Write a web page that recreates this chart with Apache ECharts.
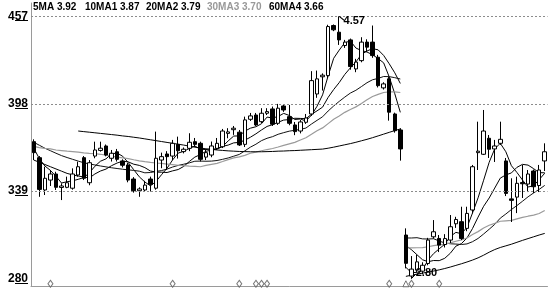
<!DOCTYPE html>
<html><head><meta charset="utf-8">
<script src="https://cdn.jsdelivr.net/npm/echarts@6/dist/echarts.min.js"></script>
<style>html,body{margin:0;padding:0;background:#fff}#c{width:550px;height:288px}</style>
</head><body><div id="c"></div>
<script>
// ---- data (prices x100) ----
const opens = [372.4,361.6,339.8,346.5,350.6,341.5,341.6,341,349.9,361.6,344.7,362.7,366.5,369.5,361.2,365.6,359.4,356.7,347.2,339.3,339.8,347.2,341,360,364.1,362.7,370.6,365.7,367.9,372.4,371.3,362,363.4,367.9,369,378,380.5,378.8,370.6,387.5,390.4,385.9,391.6,394.5,384.8,396.5,389.3,383.7,379.6,385.5,391.1,404.6,416.2,417,450.8,446.3,437.3,441.1,421.5,427.1,439.6,439.6,429.4,408.7,414.8,391.1,380.3,309.4,281.7,285.7,285,290.2,308.2,307.1,303,306,317,318.4,313.9,326.3,365,363.9,374.7,367.5,371.3,359.4,333.8,335,344.8,343.8,352.6,342.8,359.4];
const closes = [365,340.2,347.7,350.6,341.6,342.5,344.7,350.6,355.5,347.7,358.2,366.8,368,363.4,364.6,360.5,356.5,346.5,339.3,340.5,343.1,343.6,361.2,362.3,362.3,371.3,366.3,367.3,372,370.6,360.5,365,369.5,371.3,379.6,379,381.5,370.2,387.1,389.8,383.7,391.6,392.7,384.2,395,393.8,384.8,379.2,385.7,388.4,413.6,414.8,417.3,450.1,447.9,441.1,439.6,423.1,426.1,439.6,436.2,430.5,410.2,411.4,392.3,379.8,367.5,290.3,286.4,291.3,289,306,311.6,302.6,307,315,319.9,307.1,324,355.5,366,379.6,367.3,369.5,374,337.5,332.8,344.3,344,350.6,342,353.3,365.6];
const lows = [360,335.2,336.4,342.5,339.8,333,341,340,348.8,346.5,343,361.2,365.7,362.5,359,359,355,345,338,335.2,338.8,338.8,340,354.5,353.3,360,361,364.5,366,368.8,359,360,361.9,366.8,368.1,374.7,377,369.5,368.8,386.4,383,385,390.4,383,383.7,392.5,383.5,376.8,378,384.4,389.8,402,406.9,415.4,447,437.7,435.7,421,419.3,426,433,429,409,407.6,386.6,378.5,359.6,286.9,280,284.5,283,289,307,297.9,301,304,314.2,306,312,324,353.3,363.4,361.4,358.7,370.2,335.7,318.2,324.2,334.4,338.4,337.7,338.4,352.6];
const highs = [374,362.7,355.5,353.3,352.1,344.3,348.8,354.4,358.9,362.7,360,372.4,372.4,370.5,366.8,367.5,360.5,358,348.5,341.6,346,348.8,379.2,365,366,373.6,375.8,368.5,378.1,374.9,372.4,367,372.5,374.9,381,381.5,383,380.3,389.3,391.8,391.8,395,395,396.1,397.9,397.5,397.2,385.7,387,391.1,420,420.4,418.5,451.3,451.5,457,441.1,442,428.3,442.9,441.5,450.8,431,412.5,416,392,381.5,313.9,295.2,296,291,307.5,319.5,309.4,310,322.9,321.7,328.5,328.5,356.7,385.9,393.8,376.9,373.6,385.9,361.4,347.7,348.8,356.7,353.3,353.6,356.7,371.3];

const ma5 = [368,361,356,353,349.0,344.5,345.4,346.0,347.0,348.2,351.3,355.8,359.2,360.8,364.2,364.7,362.6,358.3,353.5,348.7,345.2,342.6,345.5,350.1,354.5,360.1,364.7,365.9,367.8,369.5,367.3,367.1,367.5,367.4,369.2,372.9,376.2,376.3,379.5,381.5,382.5,384.5,389.0,388.4,389.4,391.5,390.1,387.4,387.7,386.4,390.3,396.3,404.0,416.8,428.7,434.2,439.2,440.4,435.6,433.9,432.9,431.1,428.5,425.6,416.1,404.8,392.2,
  287.6,284.0,284.2,285.8,292.6,296.9,300.1,303.2,308.4,311.2,310.3,314.6,324.3,334.5,346.4,358.5,367.6,371.3,365.6,356.2,351.6,346.5,341.8,342.7,346.8,351.1];
const ma10 = [360,358.5,357,355.5,354,352.5,351,350,349.2,348.6,347.9,350.6,352.6,353.9,356.2,358.0,359.2,358.8,357.2,356.4,354.9,352.6,351.9,351.8,351.6,352.7,353.6,355.7,359.0,362.0,363.7,365.9,366.7,367.6,369.3,370.1,371.6,371.9,373.4,375.4,377.7,380.3,382.7,383.9,385.5,387.0,387.3,388.2,388.1,387.9,390.9,393.2,395.7,402.3,407.6,412.3,417.8,422.2,426.2,431.3,433.6,435.2,434.4,430.6,425.0,418.9,411.7,
  302.4,299.5,296.1,292.7,291.4,292.2,292.1,293.7,297.1,301.9,303.6,307.4,313.8,321.5,328.8,334.4,341.1,347.8,350.0,351.3,355.1,357.1,356.6,354.2,351.5,351.4];
const ma20 = [372,370,368,366.3,364.6,363,361.7,360.5,359.3,358.2,357.4,356.7,356,355.4,354.8,354.3,353.8,353.4,353,352.5,351.4,351.6,352.3,352.9,353.9,355.3,356.4,357.2,358.1,359.2,359.3,359.2,359.3,359.7,360.5,361.4,362.6,363.8,366.2,368.7,370.7,373.1,374.7,375.8,377.4,378.5,379.5,380.1,380.7,381.6,384.3,386.8,389.2,393.1,396.5,399.6,402.5,405.2,407.1,409.6,412.2,414.2,415.1,416.4,416.3,415.6,414.7,
  307.4,307.4,307.6,306.8,306.7,306.9,305.3,304.1,303.5,303.3,303.0,303.4,304.9,307.1,310.1,313.3,316.6,320.8,323.6,326.6,329.3,332.2,335.2,337.8,340.2,342.9];
const ma30 = [369.2,368.4,367.9,367.5,366.8,366.4,366.0,365.7,365.3,364.8,364.5,364.3,363.9,363.3,362.6,362.0,361.5,361.0,360.2,359.5,358.9,358.4,358.0,357.7,357.3,356.9,356.5,356.2,355.9,355.7,355.5,356.4,357.1,357.8,359.0,360.3,361.5,362.1,363.2,364.6,365.4,366.3,367.1,367.8,368.8,369.9,370.9,371.9,373.5,375.1,377.4,379.8,381.7,384.6,387.5,389.8,392.2,394.1,395.9,398.2,400.7,402.9,404.3,405.6,406.0,406.0,405.6,
  300.7,300.7,300.8,300.9,301.5,302.2,302.8,303.3,304.1,305.2,306.1,307.4,309.7,311.7,314.1,316.0,317.3,318.7,319.0,319.3,320.3,321.3,322.1,322.8,323.9,326.0];
const ma60 = [null,null,null,null,null,null,null,null,379.6,379.2,378.8,378.4,378,377.6,377.2,376.8,376.3,375.9,375.4,374.9,374.3,373.7,373.1,372.5,371.9,371.3,370.7,370.1,369.4,368.7,368.1,367.6,367.2,366.8,366.5,366.2,366,365.8,365.7,365.6,365.6,365.6,365.7,365.8,366,366.1,366.3,366.4,366.6,366.8,367,367.2,367.4,368,368.7,369.5,370.3,371.1,372,373,374,375.1,376.3,377.5,378.7,379.9,381,
  281.5,282.3,283,283.7,284.4,285.1,285.9,286.8,287.8,288.9,290,291.2,292.5,294,295.8,297.8,299.6,301,302.1,303.2,304.5,305.8,307,308.2,309.4,310.5];

const gapIndex = 67;               // first bar after the price gap; MA lines restart here
const tickValues = [457, 398, 339, 280];
const tickLabels = ['457', '398', '339', '280'];
const gridValues = [457, 398, 339];
const highMark = {index: 55, value: 457, text: '4.57'};
const lowMark = {index: 68, value: 280, text: '2.80'};
const diamondIdx = [3, 25, 37, 40, 41, 42, 64, 68, 73];
const triangleIdx = [67];
const signalLevel = 276.5;
const legendItems = [
  {text: '5MA 3.92', color: '#000'},
  {text: '10MA1 3.87', color: '#000'},
  {text: '20MA2 3.79', color: '#000'},
  {text: '30MA3 3.70', color: '#999'},
  {text: '60MA4 3.66', color: '#000'}
];

// ---- build ----
const categories = closes.map((_, i) => String(i + 1));
const kData = closes.map((c, i) => [opens[i], c, lows[i], highs[i]]);
const pre = arr => arr.map((v, i) => i < gapIndex ? v : null);
const post = arr => arr.map((v, i) => i >= gapIndex ? v : null);

const maDefs = [
  {name: '5MA', data: ma5, color: '#000', width: 1},
  {name: '10MA1', data: ma10, color: '#000', width: 1},
  {name: '20MA2', data: ma20, color: '#111', width: 1},
  {name: '30MA3', data: ma30, color: '#9a9a9a', width: 1.2},
  {name: '60MA4', data: ma60, color: '#000', width: 1}
];
const maSeries = [];
maDefs.forEach(d => {
  [pre(d.data), post(d.data)].forEach(part => {
    maSeries.push({
      type: 'line', name: d.name, data: part, showSymbol: false, silent: true,
      connectNulls: false, smooth: false,
      lineStyle: {color: d.color, width: d.width}, z: 3
    });
  });
});

const FONT = '"Liberation Sans", Arial, sans-serif';
const legendX = [33, 85, 146, 207, 269];
const legendGraphics = legendItems.map((it, k) => ({
  type: 'text', left: legendX[k], top: 2, silent: true,
  style: {text: it.text, fill: it.color, font: 'bold 10px ' + FONT}
}));

const option = {
  animation: false,
  backgroundColor: '#fff',
  grid: {left: 31, right: 2.5, top: 3, bottom: 2},
  xAxis: {
    type: 'category', data: categories, boundaryGap: true,
    axisLine: {show: true, lineStyle: {color: '#9a9a9a', width: 1}},
    axisTick: {show: false}, axisLabel: {show: false}, splitLine: {show: false}
  },
  yAxis: {
    type: 'value', min: 275, max: 466, scale: true,
    axisLine: {show: true, lineStyle: {color: '#9a9a9a', width: 1}},
    axisTick: {show: false}, axisLabel: {show: false}, splitLine: {show: false}
  },
  graphic: legendGraphics,
  series: [
    {
      type: 'candlestick', data: kData, barWidth: 4, z: 4,
      itemStyle: {color: '#fff', color0: '#000', borderColor: '#000', borderColor0: '#000', borderWidth: 1},
      markLine: {
        silent: true, symbol: 'none', animation: false,
        data: tickValues.map((v, k) => ({
          yAxis: v,
          lineStyle: {color: gridValues.includes(v) ? '#8c8c8c' : 'rgba(0,0,0,0)', type: [2, 2], width: 1},
          label: {show: true, position: 'start', distance: 3, formatter: tickLabels[k],
                  color: '#000', fontWeight: 'bold', fontSize: 12, fontFamily: FONT}
        }))
      },
      markPoint: {
        silent: true, animation: false,
        data: [
          {coord: [highMark.index, highMark.value], symbol: 'path://M0,0L10,8', symbolSize: [5, 4], symbolOffset: [2.5, 2],
           itemStyle: {color: 'none', borderColor: '#000', borderWidth: 1}, label: {show: false}},
          {coord: [highMark.index, highMark.value], symbol: 'circle', symbolSize: 1,
           itemStyle: {color: 'rgba(0,0,0,0)'},
           label: {show: true, formatter: highMark.text, position: 'inside', offset: [15, 4.5],
                   color: '#000', fontWeight: 'bold', fontSize: 11, fontFamily: FONT}},
          {coord: [lowMark.index, lowMark.value], symbol: 'path://M0,8L10,0', symbolSize: [4, 4], symbolOffset: [2, -2],
           itemStyle: {color: 'none', borderColor: '#000', borderWidth: 1}, label: {show: false}},
          {coord: [lowMark.index, lowMark.value], symbol: 'circle', symbolSize: 1,
           itemStyle: {color: 'rgba(0,0,0,0)'},
           label: {show: true, formatter: lowMark.text, position: 'inside', offset: [15, -6],
                   color: '#000', fontWeight: 'bold', fontSize: 11, fontFamily: FONT}}
        ]
      }
    },
    ...maSeries,
    {
      type: 'scatter', silent: true, z: 5,
      data: diamondIdx.map(i => [i, signalLevel]),
      symbol: 'diamond', symbolSize: [5, 7],
      itemStyle: {color: '#fff', borderColor: '#555', borderWidth: 1}
    },
    {
      type: 'scatter', silent: true, z: 5,
      data: triangleIdx.map(i => [i, signalLevel]),
      symbol: 'triangle', symbolSize: [6, 6],
      itemStyle: {color: '#fff', borderColor: '#555', borderWidth: 1}
    }
  ]
};
const chart = echarts.init(document.getElementById('c'), null, {renderer: 'canvas'});
chart.setOption(option);

// underline beneath the last two digits of each price label (as in the source software)
const underlines = tickValues.map(v => {
  const y = Math.round(chart.convertToPixel({yAxisIndex: 0}, v)) + 4.5;
  return {type: 'line', silent: true, z: 10,
          shape: {x1: 15, y1: y, x2: 28, y2: y},
          style: {stroke: '#000', lineWidth: 1}};
});
chart.setOption({graphic: legendGraphics.concat(underlines)});
</script>
</body></html>
